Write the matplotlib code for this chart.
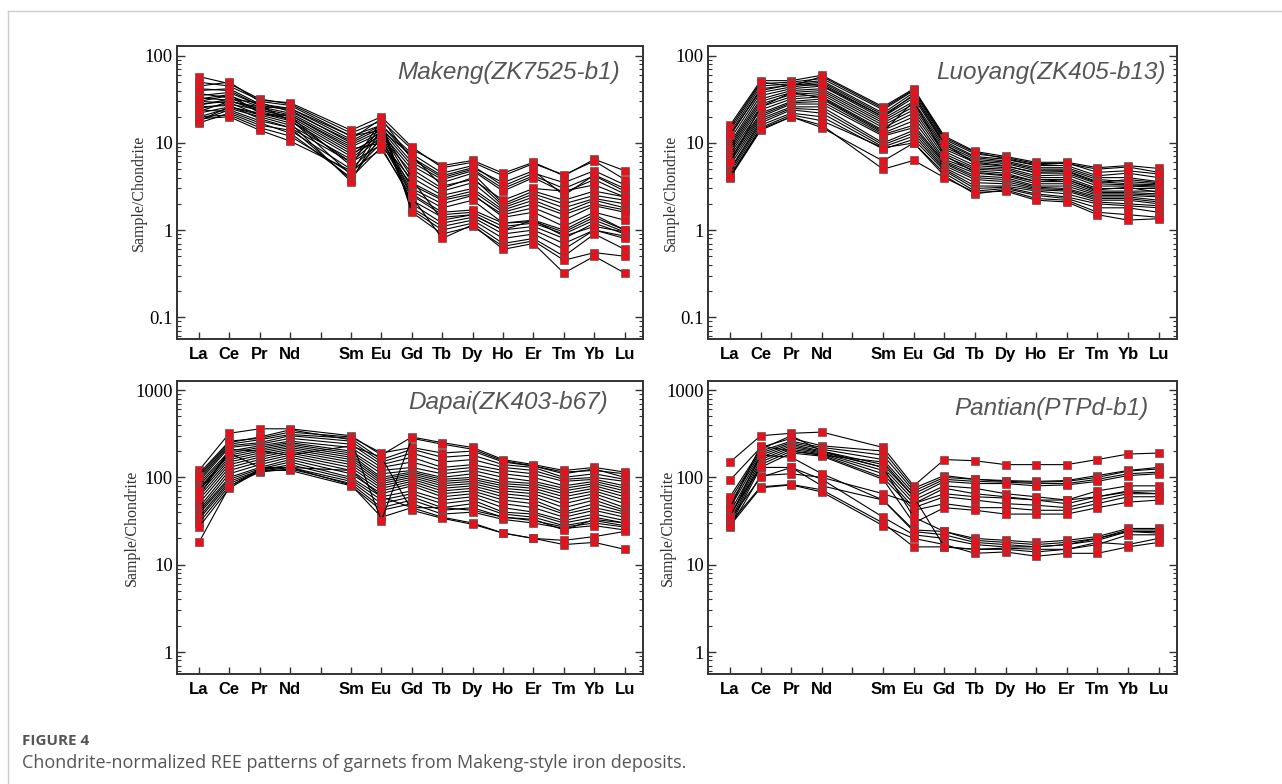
import numpy as np
import matplotlib.pyplot as plt
from matplotlib.lines import Line2D
from matplotlib.ticker import FixedLocator, LogLocator, NullFormatter

elements = ["La", "Ce", "Pr", "Nd", "Sm", "Eu", "Gd", "Tb", "Dy", "Ho", "Er", "Tm", "Yb", "Lu"]
xpos = [0, 1, 2, 3, 5, 6, 7, 8, 9, 10, 11, 12, 13, 14]

# columns: La Ce Pr Nd Sm Eu Gd Tb Dy Ho Er Tm Yb Lu
makeng = [
    [58, 48, 32, 28, 13, 18, 8.5, 5.5, 6.3, 4.5, 6.0, 4.2, 6.5, 4.8],
    [45, 50, 30, 27, 12, 16, 7.5, 4.5, 5.5, 3.2, 4.5, 3.5, 4.8, 3.3],
    [40, 42, 28, 25, 11, 19, 6.5, 4.0, 5.0, 3.0, 4.2, 3.0, 4.2, 2.8],
    [35, 38, 27, 24, 10, 15, 6.0, 3.8, 4.8, 2.8, 4.0, 2.7, 3.8, 2.6],
    [30, 35, 26, 22, 9.5, 14, 5.5, 3.5, 4.5, 2.0, 2.8, 2.2, 2.8, 2.4],
    [28, 30, 25, 21, 9, 13, 5.0, 3.0, 4.0, 1.9, 2.6, 2.0, 2.5, 2.2],
    [25, 28, 24, 20, 8, 12, 4.5, 2.8, 3.5, 1.8, 2.4, 1.8, 2.3, 2.0],
    [22, 26, 22, 18, 7, 14, 4.0, 2.5, 3.0, 1.7, 2.2, 1.6, 2.2, 1.8],
    [20, 25, 20, 16, 6.5, 13, 3.5, 2.3, 2.8, 1.6, 2.0, 1.5, 2.0, 1.7],
    [18, 24, 18, 15, 6, 12, 3.0, 2.0, 2.5, 1.5, 1.8, 1.3, 1.9, 1.6],
    [17, 22, 16, 14, 5, 11, 2.8, 1.8, 2.2, 1.2, 1.3, 1.0, 1.5, 1.0],
    [20, 21, 15, 12, 4.5, 10, 2.5, 1.5, 1.6, 1.1, 1.2, 0.9, 1.3, 0.95],
    [24, 23, 17, 13, 4.0, 9, 2.2, 1.4, 1.5, 1.0, 1.1, 0.8, 1.2, 0.9],
    [26, 27, 19, 15, 3.8, 12, 2.0, 1.2, 1.4, 0.9, 1.0, 0.7, 1.0, 0.85],
    [30, 29, 21, 17, 3.6, 15, 1.8, 1.1, 1.3, 0.8, 0.9, 0.6, 1.0, 0.8],
    [33, 31, 23, 19, 4.3, 17, 1.7, 1.0, 1.2, 0.7, 0.8, 0.5, 0.9, 0.6],
    [37, 33, 24, 20, 5.5, 18, 1.6, 0.9, 1.1, 0.65, 0.75, 0.45, 0.55, 0.5],
    [19, 20, 14, 10.5, 4.8, 8.5, 2.4, 0.8, 1.15, 0.6, 0.7, 0.32, 0.5, 0.32],
    [50, 45, 31, 29, 14, 20, 9, 5.2, 6.0, 4.2, 5.8, 4.3, 6.2, 3.8],
    [27, 32, 29, 23, 10.5, 16, 6.8, 4.2, 5.2, 3.5, 4.8, 2.5, 4.3, 3.0],
    [23, 30, 26, 25, 12, 14, 7.2, 3.2, 3.8, 2.2, 3.0, 2.8, 3.3, 2.4],
    [18, 26, 21, 21, 8.5, 10, 3.8, 1.3, 1.5, 1.0, 1.3, 0.85, 1.1, 0.95],
    [32, 36, 22, 19, 7.5, 11, 2.6, 1.6, 1.7, 1.2, 1.25, 0.95, 1.4, 1.0],
    [42, 40, 27, 18, 6, 9.5, 3.3, 2.2, 2.6, 1.4, 1.6, 1.1, 1.6, 1.3],
]

luoyang = [
    [16, 52, 52, 60, 26, 42, 12, 8, 7, 6, 6, 5.2, 5.5, 5.1],
    [14, 48, 50, 55, 24, 40, 11, 7.5, 6.8, 5.8, 5.8, 5.0, 5.3, 4.6],
    [13, 45, 48, 52, 22, 38, 10.5, 7, 6.5, 5.5, 5.5, 4.2, 4.5, 4.0],
    [12, 42, 46, 50, 21, 35, 10, 6.8, 6.2, 5.2, 5.2, 4.0, 4.0, 3.6],
    [11, 38, 44, 48, 20, 33, 9.5, 6.5, 6.0, 5.0, 5.0, 3.8, 3.6, 3.4],
    [10, 35, 42, 45, 19, 30, 9, 6.2, 5.8, 4.8, 4.8, 3.6, 3.4, 3.3],
    [9.5, 32, 40, 42, 18, 28, 8.5, 6, 5.5, 4.5, 4.5, 3.4, 3.3, 3.2],
    [9, 30, 38, 40, 17, 26, 8, 5.5, 5.2, 4.2, 4.3, 3.2, 3.2, 3.1],
    [8.5, 28, 36, 38, 16, 24, 7.5, 5.2, 5.0, 4.0, 4.0, 3.0, 3.0, 3.0],
    [8, 26, 34, 36, 15, 22, 7, 5, 4.8, 3.8, 3.8, 2.8, 2.8, 2.8],
    [7.5, 24, 32, 34, 14, 20, 6.5, 4.8, 4.5, 3.6, 3.6, 2.7, 2.7, 2.6],
    [7, 22, 30, 32, 13, 18, 6.2, 4.5, 4.2, 3.4, 3.4, 2.6, 2.6, 2.5],
    [6.5, 21, 29, 30, 12.5, 16, 6, 4.2, 4.0, 3.2, 3.2, 2.5, 2.5, 2.4],
    [6, 20, 28, 28, 12, 15, 5.8, 4.0, 3.8, 3.1, 3.0, 2.4, 2.4, 2.2],
    [5.5, 19, 26, 26, 10, 14, 5.5, 3.8, 3.6, 3.0, 2.9, 2.3, 2.3, 2.1],
    [5, 18, 25, 24, 9.5, 13, 5.2, 3.5, 3.4, 2.9, 2.8, 2.2, 2.2, 2.0],
    [4.8, 17, 24, 22, 9, 12, 5, 3.2, 3.2, 2.8, 2.6, 2.1, 2.0, 1.9],
    [4.5, 16, 22, 20, 8.5, 11, 4.8, 3.0, 3.1, 2.6, 2.4, 2.0, 1.9, 1.8],
    [4.2, 15, 21, 18, 8.8, 10, 4.5, 2.8, 3.0, 2.5, 2.3, 1.8, 1.8, 1.6],
    [4.0, 14, 20, 15, 6.2, 10, 4.2, 2.6, 2.9, 2.3, 2.2, 1.6, 1.5, 1.4],
    [4.1, 14.5, 20, 16, 5, 6.3, 4.0, 2.7, 2.8, 2.2, 2.1, 1.5, 1.3, 1.35],
    [15, 50, 45, 58, 25, 41, 11.5, 7.8, 6.6, 5.6, 5.9, 4.6, 4.8, 4.4],
    [12.5, 40, 47, 46, 20, 36, 9.8, 5.8, 5.4, 4.6, 4.7, 3.5, 3.8, 3.5],
    [6, 26, 38, 33, 13.5, 30, 7.2, 4.6, 4.3, 3.6, 3.8, 2.9, 3.1, 2.7],
]

dapai = [
    [120, 320, 360, 360, 300, 180, 290, 250, 220, 160, 140, 120, 130, 115],
    [110, 260, 280, 330, 290, 190, 220, 190, 200, 150, 135, 110, 125, 100],
    [100, 240, 270, 310, 280, 160, 210, 170, 180, 140, 130, 100, 110, 95],
    [95, 230, 250, 300, 260, 150, 190, 150, 160, 130, 120, 95, 100, 90],
    [90, 220, 240, 280, 240, 140, 170, 130, 140, 120, 110, 90, 95, 80],
    [85, 200, 230, 260, 220, 130, 150, 120, 130, 110, 100, 80, 90, 75],
    [80, 190, 220, 250, 200, 120, 130, 110, 120, 100, 90, 75, 85, 70],
    [75, 180, 210, 240, 190, 110, 120, 100, 110, 90, 85, 70, 80, 65],
    [70, 170, 200, 230, 180, 100, 115, 95, 100, 85, 80, 65, 75, 60],
    [65, 160, 190, 220, 170, 95, 110, 90, 95, 80, 75, 60, 70, 55],
    [60, 150, 180, 210, 160, 90, 105, 85, 90, 75, 70, 55, 65, 50],
    [55, 140, 170, 200, 150, 85, 100, 80, 85, 70, 65, 50, 60, 45],
    [50, 130, 160, 190, 140, 80, 95, 75, 80, 65, 60, 45, 55, 42],
    [45, 120, 150, 180, 130, 75, 90, 70, 75, 60, 55, 40, 50, 40],
    [42, 110, 140, 170, 120, 70, 85, 65, 70, 55, 50, 38, 45, 38],
    [40, 100, 130, 160, 110, 65, 80, 60, 65, 50, 45, 35, 42, 35],
    [38, 95, 125, 150, 100, 60, 70, 55, 60, 45, 40, 32, 38, 32],
    [35, 90, 120, 140, 95, 55, 65, 50, 55, 40, 38, 30, 35, 30],
    [33, 85, 118, 130, 90, 50, 60, 45, 50, 38, 35, 28, 32, 28],
    [30, 80, 115, 125, 85, 45, 55, 42, 45, 35, 32, 27, 30, 27],
    [27, 75, 120, 120, 80, 42, 50, 38, 40, 33, 30, 26, 28, 25],
    [18, 78, 125, 130, 82, 35, 45, 35, 30, 23, 20, 17, 18, 15],
    [105, 250, 290, 350, 270, 32, 280, 240, 210, 155, 135, 115, 120, 110],
    [60, 210, 200, 180, 230, 170, 42, 34, 29, 23, 20, 19, 21, 24],
    [70, 190, 130, 130, 120, 60, 45, 45, 42, 35, 33, 25, 33, 30],
]

pantian = [
    [150, 300, 320, 330, 220, 80, 160, 155, 140, 140, 140, 160, 185, 190],
    [93, 220, 280, 230, 200, 75, 105, 95, 92, 90, 92, 105, 120, 130],
    [55, 200, 260, 220, 180, 70, 100, 95, 90, 88, 90, 100, 118, 125],
    [50, 190, 250, 210, 160, 65, 95, 90, 88, 85, 85, 95, 110, 115],
    [45, 180, 240, 200, 140, 60, 90, 85, 85, 80, 82, 90, 105, 110],
    [40, 170, 230, 195, 130, 55, 80, 75, 65, 60, 55, 70, 80, 80],
    [35, 160, 220, 190, 120, 50, 75, 65, 60, 55, 50, 60, 70, 70],
    [32, 150, 210, 185, 110, 45, 60, 55, 50, 48, 45, 55, 65, 65],
    [30, 140, 200, 180, 100, 42, 50, 45, 45, 42, 42, 50, 60, 60],
    [28, 130, 190, 175, 95, 30, 45, 42, 38, 38, 38, 45, 52, 55],
    [27, 105, 110, 100, 65, 50, 65, 60, 58, 55, 55, 60, 68, 65],
    [60, 210, 300, 200, 130, 35, 24, 20, 19, 18, 19, 21, 26, 26],
    [38, 130, 130, 80, 55, 25, 24, 19, 18, 17, 18, 20, 25, 25],
    [33, 100, 130, 95, 35, 22, 20, 17, 16, 16, 17, 19, 24, 23],
    [30, 78, 83, 72, 30, 16, 16, 15, 15, 14, 15, 18, 17, 20],
    [28, 76, 82, 68, 28, 20, 17, 13.5, 14, 12.5, 13.5, 13.5, 16, 18],
    [45, 230, 200, 180, 150, 60, 16, 15, 15.5, 15, 15, 17, 22, 22],
    [35, 180, 170, 110, 55, 24, 22, 18, 17, 16, 17, 20, 24, 24],
]

titles = ["Makeng(ZK7525-b1)", "Luoyang(ZK405-b13)", "Dapai(ZK403-b67)", "Pantian(PTPd-b1)"]
datasets = [makeng, luoyang, dapai, pantian]

W, H = 1282, 784
fig = plt.figure(figsize=(W / 100, H / 100), dpi=100)

# axes boxes in pixels: left, top, right, bottom
boxes = [(177, 46, 643, 339), (708, 46, 1177, 339),
         (177, 381, 643, 674), (708, 381, 1177, 674)]
ylims = [(0.056, 130), (0.056, 130), (0.56, 1270), (0.56, 1270)]
yticks = [[0.1, 1, 10, 100], [0.1, 1, 10, 100], [1, 10, 100, 1000], [1, 10, 100, 1000]]
title_pos = [(0.95, 0.91), (0.975, 0.91), (0.925, 0.925), (0.94, 0.905)]
ylabel_x = [-0.064, -0.062, -0.079, -0.068]

for i in range(4):
    l, t, r, b = boxes[i]
    ax = fig.add_axes([l / W, 1 - b / H, (r - l) / W, (b - t) / H])
    for row in datasets[i]:
        ax.plot(xpos, row, color="black", lw=0.8, marker="s", ms=5.8,
                mfc="#e8101a", mec="#6a5050", mew=0.5)
    ax.set_yscale("log")
    ax.set_ylim(*ylims[i])
    ax.set_xlim(-0.72, 14.6)

    ax.xaxis.set_major_locator(FixedLocator(list(range(15))))
    ax.set_xticklabels(elements[:4] + [""] + elements[4:],
                       fontdict={"family": "Liberation Sans", "weight": "bold", "size": 12})
    ax.yaxis.set_major_locator(FixedLocator(yticks[i]))
    ax.set_yticklabels([("%g" % v) for v in yticks[i]],
                       fontdict={"family": "Liberation Serif", "size": 13.5})
    ax.yaxis.set_minor_locator(LogLocator(base=10, subs=np.arange(2, 10)))
    ax.yaxis.set_minor_formatter(NullFormatter())

    ax.tick_params(axis="x", direction="in", length=5, width=1, color="#333333", pad=6, top=False)
    ax.tick_params(axis="y", which="major", direction="in", length=6, width=1,
                   color="#333333", right=True, pad=3)
    ax.tick_params(axis="y", which="minor", direction="in", length=3, width=0.8,
                   color="#333333", right=True)
    for s in ax.spines.values():
        s.set_linewidth(1.4)
        s.set_color("#333333")

    ax.set_ylabel("Sample/Chondrite", family="Liberation Serif", size=11.5, color="#333333")
    ax.yaxis.set_label_coords(ylabel_x[i], 0.5)
    ax.text(title_pos[i][0], title_pos[i][1], titles[i], transform=ax.transAxes,
            ha="right", va="center", style="italic", size=17.5, color="#555555",
            family="Liberation Sans")

# page frame lines
fig.add_artist(Line2D([8 / W, 1], [1 - 11 / H, 1 - 11 / H], color="#cccccc", lw=1))
fig.add_artist(Line2D([8 / W, 8 / W], [0, 1 - 11 / H], color="#cccccc", lw=1))

fig.text(22 / W, 1 - 741 / H, "FIGURE 4", family="Open Sans", weight="bold", size=11,
         color="#555555", va="center")
fig.text(22 / W, 1 - 763 / H,
         "Chondrite-normalized REE patterns of garnets from Makeng-style iron deposits.",
         family="Open Sans", size=13, color="#555555", va="center")

fig.savefig("out.png", dpi=100)
